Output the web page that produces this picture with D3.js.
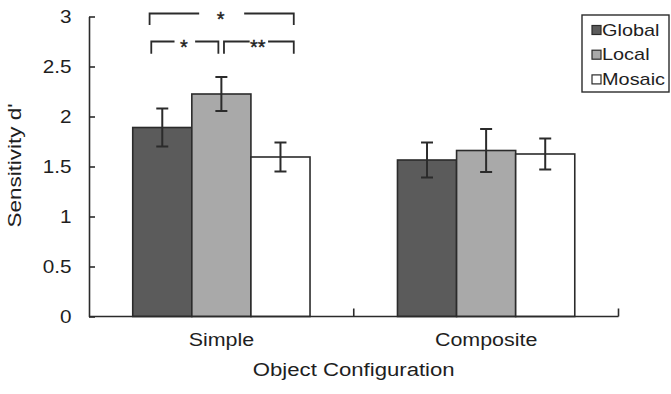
<!DOCTYPE html>
<html lang="en">
<head>
<meta charset="UTF-8">
<script src="https://d3js.org/d3.v7.min.js"></script>
<style>
    body { margin: 0; background: #fff; }
    svg { display: block; font-family: "Liberation Sans", Arial, sans-serif; }
    text { fill: #1e1e1e; }
</style>
<title>Sensitivity d'</title>
</head>
<body>
<svg id="chart" width="671" height="394"></svg>
<script>
    // values
    var categories = ["Simple", "Composite"];
    var series = ["Global", "Local", "Mosaic"];
    var globalMeans = [1.89, 1.565];
    var localMeans = [2.225, 1.66];
    var mosaicMeans = [1.595, 1.625];
    var globalErr = [0.19, 0.175];
    var localErr = [0.17, 0.215];
    var mosaicErr = [0.145, 0.155];
    var yTicks = [0, 0.5, 1, 1.5, 2, 2.5, 3];
    var yTickLabels = ["0", "0.5", "1", "1.5", "2", "2.5", "3"];
    // significance brackets over the Simple group
    var sigFrom = ["Global", "Global", "Local"];
    var sigTo = ["Mosaic", "Local", "Mosaic"];
    var sigLabels = ["*", "*", "**"];
    var sigLevel = [3.03, 2.75, 2.75];

    var colors = { Global: "#5b5b5b", Local: "#a9a9a9", Mosaic: "#ffffff" };
    var means = { Global: globalMeans, Local: localMeans, Mosaic: mosaicMeans };
    var errs = { Global: globalErr, Local: localErr, Mosaic: mosaicErr };

    var svg = d3.select("#chart");
    var ink = "#2b2b2b";

    var x0 = d3.scaleBand().domain(categories).range([89, 618.5]);
    var x1 = d3.scaleBand().domain(series).range([0, x0.bandwidth()]).paddingOuter(0.74);
    var y = d3.scaleLinear().domain([0, 3]).range([316.5, 16.5]);

    function stretch(sel, k) {
        sel.each(function () {
            var w = this.getComputedTextLength();
            d3.select(this).attr("textLength", w * k).attr("lengthAdjust", "spacingAndGlyphs");
        });
    }

    var rows = [];
    categories.forEach(function (c, i) {
        series.forEach(function (s) {
            rows.push({ cat: c, s: s, v: means[s][i], e: errs[s][i] });
        });
    });

    // bars
    svg.append("g").selectAll("rect")
        .data(rows)
        .enter().append("rect")
        .attr("x", function (d) { return x0(d.cat) + x1(d.s); })
        .attr("y", function (d) { return y(d.v); })
        .attr("width", x1.bandwidth())
        .attr("height", function (d) { return y(0) - y(d.v); })
        .attr("fill", function (d) { return colors[d.s]; })
        .attr("stroke", ink)
        .attr("stroke-width", 1.6);

    // error bars
    var eb = svg.append("g").attr("stroke", ink).attr("stroke-width", 2);
    rows.forEach(function (d) {
        var cx = x0(d.cat) + x1(d.s) + x1.bandwidth() / 2;
        eb.append("line").attr("x1", cx).attr("x2", cx).attr("y1", y(d.v - d.e)).attr("y2", y(d.v + d.e));
        eb.append("line").attr("x1", cx - 6).attr("x2", cx + 6).attr("y1", y(d.v - d.e)).attr("y2", y(d.v - d.e));
        eb.append("line").attr("x1", cx - 6).attr("x2", cx + 6).attr("y1", y(d.v + d.e)).attr("y2", y(d.v + d.e));
    });

    // y axis
    var yAxis = svg.append("g")
        .attr("transform", "translate(89,0)")
        .call(d3.axisLeft(y).tickValues(yTicks)
            .tickFormat(function (d, i) { return yTickLabels[i]; })
            .tickSizeInner(-6).tickSizeOuter(0).tickPadding(17.5));
    yAxis.selectAll("path, line").attr("stroke", ink).attr("stroke-width", 1.6);
    yAxis.selectAll("text").attr("font-size", 18).attr("fill", "#1e1e1e").attr("font-family", null).call(stretch, 1.15);

    // x axis
    var xAxis = svg.append("g")
        .attr("transform", "translate(0," + y(0) + ")")
        .call(d3.axisBottom(x0).tickSize(0).tickPadding(17));
    xAxis.select(".domain").remove();
    xAxis.selectAll("text").attr("font-size", 18).attr("fill", "#1e1e1e").attr("font-family", null).call(stretch, 1.19);
    xAxis.append("line").attr("x1", 89).attr("x2", x0.range()[1]).attr("stroke", ink).attr("stroke-width", 1.6);
    categories.forEach(function (c) {
        var bx = x0(c) + x0.bandwidth();
        xAxis.append("line").attr("x1", bx).attr("x2", bx).attr("y1", 0).attr("y2", -8)
            .attr("stroke", ink).attr("stroke-width", 1.6);
    });

    // axis titles
    svg.append("text")
        .attr("x", (89 + x0.range()[1]) / 2)
        .attr("y", 376)
        .attr("text-anchor", "middle")
        .attr("font-size", 18)
        .text("Object Configuration")
        .call(stretch, 1.23);

    svg.append("text")
        .attr("transform", "translate(21,165.5) rotate(-90)")
        .attr("text-anchor", "middle")
        .attr("font-size", 19)
        .text("Sensitivity d'")
        .call(stretch, 1.18);

    // significance brackets
    var legOffsets = [[-12.7, 13.3], [-11, -3], [2.6, 13.3]];
    var legDepth = [0.115, 0.123, 0.123];
    var gapHalf = [22.5, 10.3, 9.2];
    var sig = svg.append("g");
    sigLabels.forEach(function (lab, i) {
        var xa = x0("Simple") + x1(sigFrom[i]) + x1.bandwidth() / 2 + legOffsets[i][0];
        var xb = x0("Simple") + x1(sigTo[i]) + x1.bandwidth() / 2 + legOffsets[i][1];
        var yt = y(sigLevel[i]);
        var yb = y(sigLevel[i] - legDepth[i]);
        var xm = (xa + xb) / 2;
        sig.append("path")
            .attr("d", "M" + xa + "," + yb + "V" + yt + "H" + (xm - gapHalf[i]) +
                "M" + (xm + gapHalf[i]) + "," + yt + "H" + xb + "V" + yb)
            .attr("fill", "none")
            .attr("stroke", ink)
            .attr("stroke-width", 1.8);
        sig.append("text")
            .attr("x", xm - 1)
            .attr("y", yt + 12)
            .attr("text-anchor", "middle")
            .attr("font-size", 20)
            .attr("stroke", "#1e1e1e")
            .attr("stroke-width", 0.4)
            .text(lab);
    });

    // legend
    var lg = svg.append("g");
    lg.append("rect").attr("x", 582).attr("y", 15).attr("width", 87).attr("height", 77)
        .attr("fill", "#fff").attr("stroke", ink).attr("stroke-width", 1.4);
    series.forEach(function (s, i) {
        var by = 35.5 + i * 24.7;
        lg.append("rect").attr("x", 592).attr("y", by - 10).attr("width", 9).attr("height", 9)
            .attr("fill", colors[s]).attr("stroke", ink).attr("stroke-width", 1.2);
        lg.append("text").attr("x", 602).attr("y", by).attr("font-size", 17).text(s).call(stretch, 1.17);
    });
</script>
</body>
</html>
